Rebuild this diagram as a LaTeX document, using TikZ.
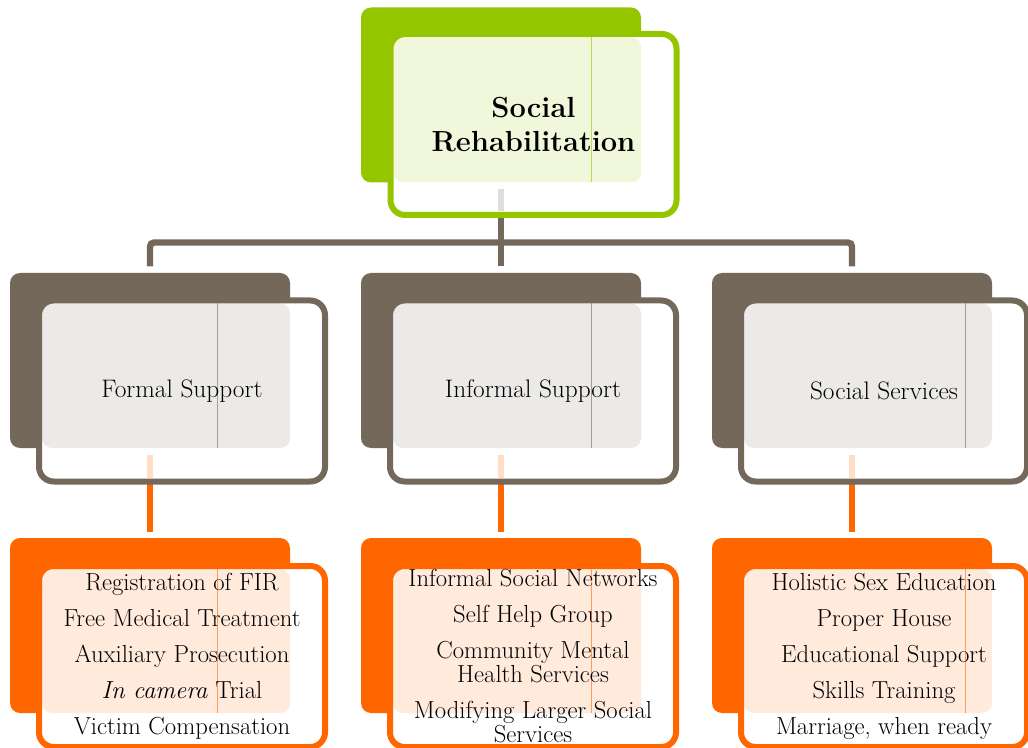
\documentclass[tikz,border=0pt]{standalone}
\usepackage{tikz}
\usetikzlibrary{backgrounds}
\definecolor{leaf}{RGB}{148,198,0}
\definecolor{bark}{RGB}{115,104,89}
\definecolor{flame}{RGB}{255,102,0}
\tikzstyle{backbox} = [minimum width=210pt, minimum height=131.25pt, inner sep=0pt, outer sep=0pt]
\tikzstyle{frontbox} = [minimum width=214.5pt, minimum height=135.75pt, inner sep=0pt, outer sep=0pt, align=center]
\tikzstyle{link} = [line width=4.8pt]

\begin{document}
\begin{tikzpicture}[x=0.75pt,y=-0.75pt]
	\useasboundingbox (0,0) rectangle (1028,748);
	% Top card:
	\node [backbox] (root-bg) at (501,95) {};
	\node [frontbox,font=\fontsize{21.8}{25}\selectfont\bfseries] (root) at (533.5,124.5) {Social\\Rehabilitation};
	
	% Second row:
	% The back box sits up and left of the front box holding the text
	\foreach \dx/\name/\txt in {0/formal/Formal Support,351/informal/Informal Support,702/services/Social Services}{%
		\node [backbox] (\name-bg) at (150+\dx,360.5) {};
		\node [frontbox,font=\fontsize{19}{20}\selectfont] (\name) at (182+\dx,391) {\txt};
	}
	
	% Third row: the lists
	\foreach \dx/\name/\txt in {%
		0/formal-list/{Registration of FIR\\[9pt]Free Medical Treatment\\[9pt]Auxiliary Prosecution\\[9pt]\textit{In camera} Trial\\[9pt]Victim Compensation},
		351/informal-list/{Informal Social Networks\\[9pt]Self Help Group\\[9pt]Community Mental\\Health Services\\[9pt]Modifying Larger Social\\Services},
		702/services-list/{Holistic Sex Education\\[9pt]Proper House\\[9pt]Educational Support\\[9pt]Skills Training\\[9pt]Marriage, when ready}}{%
		\node [backbox] (\name-bg) at (150+\dx,625.5) {};
		\node [frontbox,font=\fontsize{18.5}{18}\selectfont] (\name) at (182+\dx,656.5) {\txt};
	}
	
	\begin{pgfonlayer}{background}
		% Connectors:
		% Drawn first, so that the boxes cover their ends
		\draw [link,bark] (root-bg.south) -- ++(0,60) coordinate (fork);
		\foreach \name in {formal,informal,services}{%
			\draw [link,bark,rounded corners=3pt,shorten >=5pt] (fork) -| (\name-bg.north);
			\draw [link,flame,shorten >=4.5pt] (\name-bg.south) -- (\name-list-bg.north);
		}
		
		% Boxes:
		% back box, white front box, light inner area, thin rule, then the border
		\foreach \name/\col/\x in {root/leaf/591,formal/bark/217,informal/bark/591,services/bark/965,formal-list/flame/217,informal-list/flame/591,services-list/flame/965}{%
			\fill [\col,rounded corners=7.5pt] (\name-bg.north west) rectangle (\name-bg.south east);
			\fill [white,rounded corners=11pt] (\name.north west) rectangle (\name.south east);
			\fill [\col!14,rounded corners=7.5pt] ([shift={(3,3)}]\name.north west) rectangle (\name-bg.south east);
			\coordinate (cut) at (\x,0);
			\draw [\col!65,line width=0.6pt] ([yshift=-2.25pt]\name.north -| cut) -- (\name-bg.south -| cut);
			\draw [\col,line width=4.5pt,rounded corners=11pt] (\name.north west) rectangle (\name.south east);
		}
		
		% Faded start of each connector inside the front box
		\draw [link,bark!22,shorten <=5pt,shorten >=3pt] (root-bg.south) -- (root-bg.south |- root.south);
		\foreach \name in {formal,informal,services}
			\draw [link,flame!22,shorten <=5pt,shorten >=3pt] (\name-bg.south) -- (\name-bg.south |- \name.south);
	\end{pgfonlayer}
\end{tikzpicture}
\end{document}
